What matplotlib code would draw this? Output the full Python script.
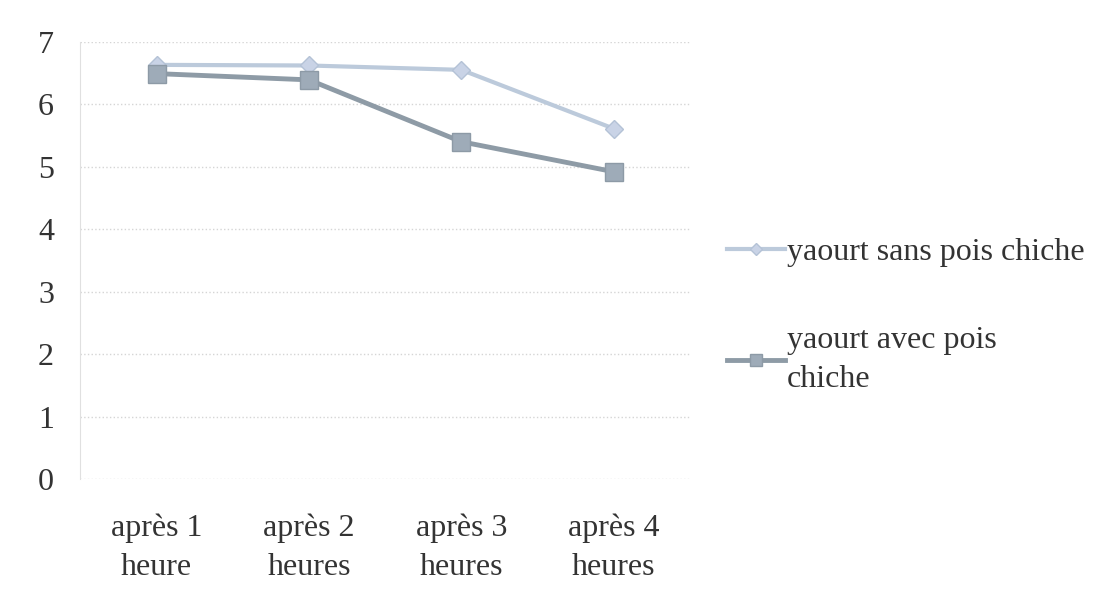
import matplotlib.pyplot as plt

categories = ['après 1\nheure', 'après 2\nheures', 'après 3\nheures', 'après 4\nheures']
sans_pois = [6.63, 6.62, 6.55, 5.61]
avec_pois = [6.49, 6.39, 5.40, 4.92]
labels = ['yaourt sans pois chiche', 'yaourt avec pois\nchiche']

plt.rcParams['font.family'] = ['Liberation Serif', 'DejaVu Serif']

fig = plt.figure(figsize=(11.02, 6.05), dpi=100)
ax = fig.add_axes([0.073, 0.208, 0.553, 0.723])

x = list(range(len(categories)))
l1, = ax.plot(x, sans_pois, color='#bccadb', lw=3, marker='D', ms=9,
              mfc='#c9d3e6', mec='#b4c2d6')
l2, = ax.plot(x, avec_pois, color='#8e9ba6', lw=3.5, marker='s', ms=13,
              mfc='#9eabb8', mec='#8d9aa6')

ax.set_xlim(-0.5, len(categories) - 0.5)
ax.set_ylim(0, 7)
ax.set_yticks(range(8))
ax.set_xticks(x)
ax.set_xticklabels(categories, fontsize=23, color='#333333', linespacing=1.45)
ax.tick_params(axis='y', labelsize=23, colors='#333333', length=0, pad=19)
ax.tick_params(axis='x', length=0, pad=25)
ax.grid(axis='y', color='#d5d5d5', ls=':', lw=1)
for s in ['top', 'right', 'bottom']:
    ax.spines[s].set_visible(False)
ax.spines['left'].set_color('#e0e0e0')

leg = fig.legend([l1, l2], labels, loc='upper left', bbox_to_anchor=(0.634, 0.655),
                 frameon=False, fontsize=23, labelspacing=1.85, handlelength=1.8,
                 handletextpad=0.05, labelcolor='#333333', markerscale=0.7)
for t in leg.get_texts():
    t.set_linespacing(1.45)

fig.savefig('out.png', dpi=100)
